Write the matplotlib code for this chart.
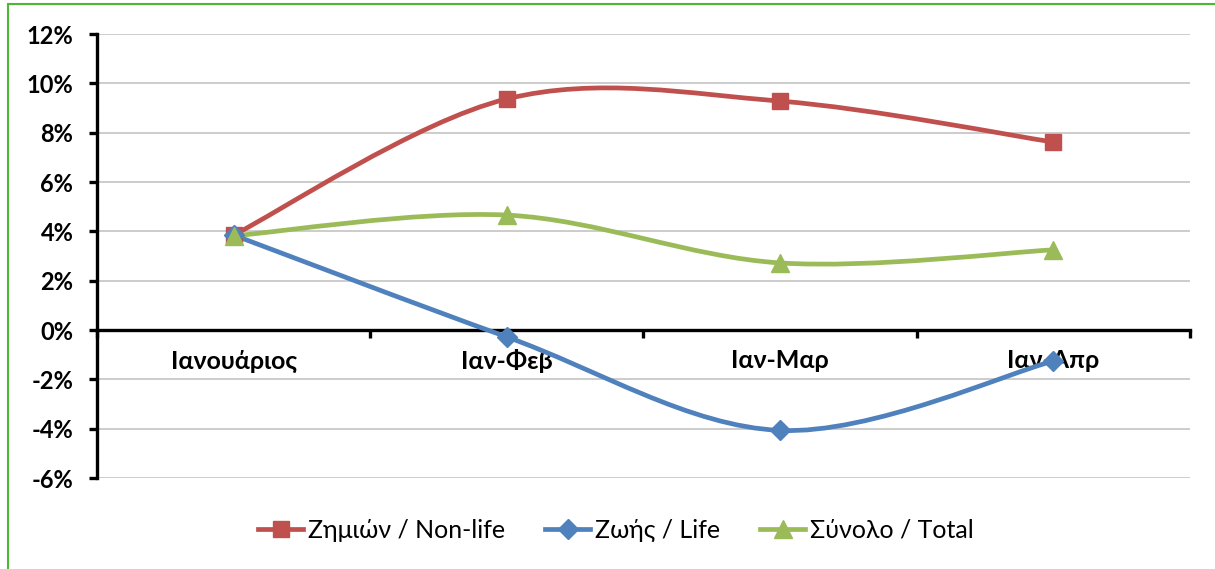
import matplotlib
matplotlib.use("Agg")
import matplotlib.pyplot as plt
import numpy as np
from matplotlib.path import Path
from matplotlib.patches import PathPatch, Rectangle
from matplotlib.lines import Line2D
from matplotlib.ticker import FuncFormatter, FixedLocator

plt.rcParams['font.family'] = ['Lato', 'Open Sans', 'DejaVu Sans']

categories = ['Ιανουάριος', 'Ιαν-Φεβ', 'Ιαν-Μαρ', 'Ιαν-Απρ']
non_life = [3.85, 9.37, 9.28, 7.62]
life = [3.85, -0.28, -4.07, -1.26]
total = [3.82, 4.66, 2.72, 3.25]

series = [
    ('Ζημιών / Non-life', non_life, '#C0504D', 's', 11),
    ('Ζωής / Life', life, '#4F81BD', 'D', 10),
    ('Σύνολο / Total', total, '#9BBB59', '^', 13),
]


def smooth_path(xs, ys):
    # Catmull-Rom style bezier, like Excel's "smoothed line"
    pts = np.column_stack([xs, ys]).astype(float)
    n = len(pts)
    verts = [pts[0]]
    codes = [Path.MOVETO]
    for i in range(n - 1):
        p0 = pts[i - 1] if i > 0 else pts[i]
        p1 = pts[i]
        p2 = pts[i + 1]
        p3 = pts[i + 2] if i + 2 < n else pts[i + 1]
        verts += [p1 + (p2 - p0) / 6, p2 - (p3 - p1) / 6, p2]
        codes += [Path.CURVE4] * 3
    return Path(verts, codes)


fig = plt.figure(figsize=(12.15, 5.69), dpi=100)
ax = fig.add_axes([0.0798, 0.1599, 0.8996, 0.7803])

x = np.arange(len(categories))
handles = []
for label, vals, color, marker, ms in series:
    ax.add_patch(PathPatch(smooth_path(x, vals), facecolor='none',
                           edgecolor=color, lw=3.4, capstyle='round', zorder=3))
    ax.plot(x, vals, linestyle='none', marker=marker, markersize=ms,
            color=color, markeredgecolor=color, zorder=4)
    handles.append(Line2D([], [], color=color, lw=3.4, marker=marker,
                          markersize=ms, markeredgecolor=color, label=label))

ax.set_xlim(-0.5, 3.5)
ax.set_ylim(-6, 12)
ax.set_yticks(np.arange(-6, 13, 2))
ax.yaxis.set_major_formatter(FuncFormatter(lambda v, p: '{:.0f}%'.format(v)))
ax.grid(axis='y', color='#C8C8C8', lw=1.3, zorder=0)
ax.set_axisbelow(True)

for s in ['top', 'right']:
    ax.spines[s].set_visible(False)
ax.spines['left'].set_linewidth(2.4)
ax.spines['bottom'].set_position(('data', 0))
ax.spines['bottom'].set_linewidth(2.4)
ax.spines['bottom'].set_zorder(2)

ax.set_xticks(x)
ax.set_xticklabels(categories, fontsize=18, fontweight='bold')
ax.xaxis.set_minor_locator(FixedLocator(np.arange(-0.5, 4, 1)))
ax.tick_params(axis='x', which='major', length=0, pad=14)
ax.tick_params(axis='x', which='minor', length=6, width=2.4, direction='out')
ax.tick_params(axis='y', length=6, width=2.4, labelsize=17, pad=11)
for t in ax.get_yticklabels():
    t.set_fontweight('bold')

fig.legend(handles=handles, loc='center', bbox_to_anchor=(0.507, 0.068),
           ncol=3, frameon=False, fontsize=18, handlelength=1.8,
           columnspacing=1.6, handletextpad=0.2)

fig.add_artist(Rectangle((8 / 1215, -0.1), 1.2, 1.1 - 4.5 / 569,
                         transform=fig.transFigure, fill=False,
                         edgecolor='#4DB833', lw=1.5))

fig.savefig('out.png', dpi=100)
